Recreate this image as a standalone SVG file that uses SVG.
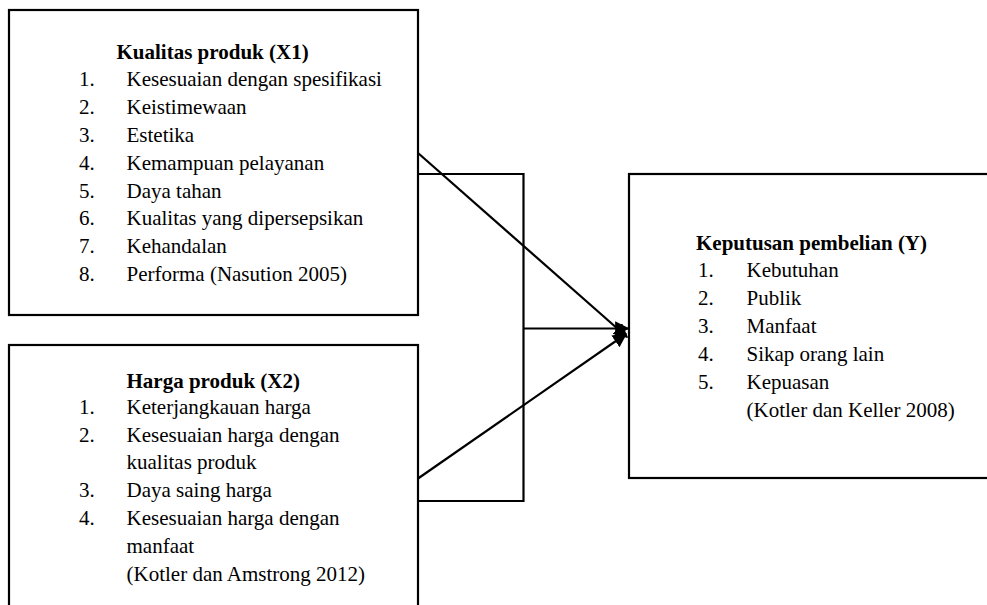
<svg xmlns="http://www.w3.org/2000/svg" width="987" height="605" viewBox="0 0 987 605">
<style>
.box{fill:none;stroke:#000;stroke-width:2.2}
.ln{fill:none;stroke:#000;stroke-width:2.2}
text{font-family:'Liberation Serif','DejaVu Serif',serif;font-size:21px;fill:#000}
.t{font-weight:bold}
</style>
<defs>
<marker id="ah" viewBox="0 0 10 10" refX="9" refY="5" markerWidth="6.5" markerHeight="6.5" markerUnits="strokeWidth" orient="auto">
<path d="M0,0 L10,5 L0,10 Z" fill="#000"/>
</marker>
</defs>
<rect width="987" height="605" fill="#fff"/>
<g id="connectors">
<polyline class="ln" points="418,174 523.5,174 523.5,501 418,501"/>
<line class="ln" x1="418" y1="153" x2="627" y2="337" marker-end="url(#ah)"/>
<line class="ln" x1="523.5" y1="328.5" x2="628" y2="328.5" marker-end="url(#ah)"/>
<line class="ln" x1="418" y1="478.5" x2="626" y2="334" marker-end="url(#ah)"/>
</g>
<g id="x1" font-family="Liberation Serif, DejaVu Serif, serif">
<rect class="box" x="9" y="10" width="409" height="305"/>
<text class="t" x="116.5" y="59">Kualitas produk (X1)</text>
<text x="79" y="86">1.</text><text x="126.5" y="86">Kesesuaian dengan spesifikasi</text>
<text x="79" y="114">2.</text><text x="126.5" y="114">Keistimewaan</text>
<text x="79" y="142">3.</text><text x="126.5" y="142">Estetika</text>
<text x="79" y="169.5">4.</text><text x="126.5" y="169.5">Kemampuan pelayanan</text>
<text x="79" y="197.5">5.</text><text x="126.5" y="197.5">Daya tahan</text>
<text x="79" y="225">6.</text><text x="126.5" y="225">Kualitas yang dipersepsikan</text>
<text x="79" y="253">7.</text><text x="126.5" y="253">Kehandalan</text>
<text x="79" y="281">8.</text><text x="126.5" y="281">Performa (Nasution 2005)</text>
</g>
<g id="x2">
<rect class="box" x="9" y="345" width="409" height="300"/>
<text class="t" x="126.5" y="387.5">Harga produk (X2)</text>
<text x="79" y="413.5">1.</text><text x="126.5" y="413.5">Keterjangkauan harga</text>
<text x="79" y="441.5">2.</text><text x="126.5" y="441.5">Kesesuaian harga dengan</text>
<text x="126.5" y="469.3">kualitas produk</text>
<text x="79" y="497.3">3.</text><text x="126.5" y="497.3">Daya saing harga</text>
<text x="79" y="525">4.</text><text x="126.5" y="525">Kesesuaian harga dengan</text>
<text x="126.5" y="552.7">manfaat</text>
<text x="126.5" y="580.7">(Kotler dan Amstrong 2012)</text>
</g>
<g id="y">
<rect class="box" x="629" y="174" width="400" height="304"/>
<text class="t" x="696" y="250">Keputusan pembelian (Y)</text>
<text x="698" y="277">1.</text><text x="746.5" y="277">Kebutuhan</text>
<text x="698" y="305">2.</text><text x="746.5" y="305">Publik</text>
<text x="698" y="333">3.</text><text x="746.5" y="333">Manfaat</text>
<text x="698" y="361">4.</text><text x="746.5" y="361">Sikap orang lain</text>
<text x="698" y="389">5.</text><text x="746.5" y="389">Kepuasan</text>
<text x="746.5" y="417">(Kotler dan Keller 2008)</text>
</g>
</svg>
